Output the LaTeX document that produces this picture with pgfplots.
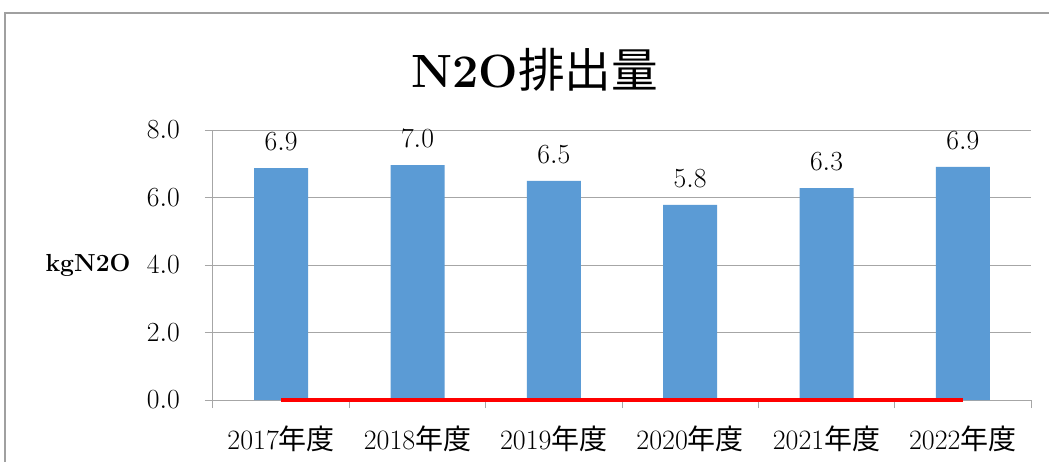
\documentclass[border=0pt]{standalone}
\usepackage{pgfplots}
\pgfplotsset{compat=1.18}
\usepackage{fontspec}
\newfontfamily\cjk{Noto Sans CJK JP}
\definecolor{barblue}{HTML}{5B9BD5}
\definecolor{gridgray}{HTML}{A6A6A6}
\definecolor{framegray}{HTML}{A0A0A0}
\begin{document}
\begin{tikzpicture}
\useasboundingbox (0pt,0pt) rectangle (786.75pt,346.5pt);
\fill[white] (0pt,0pt) rectangle (786.75pt,346.5pt);
\draw[framegray, line width=1.5pt] (3.75pt,0pt) -- (3.75pt,336.75pt) -- (786.75pt,336.75pt);
\node[anchor=center] at (401pt,294pt) {\fontsize{35}{40}\selectfont\bfseries N2O{\mdseries\cjk 排出量}};
\begin{axis}[
  at={(159.75pt,46.5pt)}, anchor=south west,
  scale only axis, width=613.5pt, height=202.5pt,
  xmin=-0.5, xmax=5.5, ymin=0, ymax=8,
  ytick={0,2,4,6,8},
  xtick={0,1,2,3,4,5},
  xticklabels={2017{\cjk 年度},2018{\cjk 年度},2019{\cjk 年度},2020{\cjk 年度},2021{\cjk 年度},2022{\cjk 年度}},
  minor xtick={-0.5,0.5,1.5,2.5,3.5,4.5,5.5},
  major x tick style={draw=none},
  tick align=outside,
  major tick length=6pt, minor tick length=6pt,
  tick style={gridgray, line width=0.75pt},
  axis x line*=bottom, axis y line*=left,
  axis line style={gridgray, line width=0.75pt, -},
  ymajorgrids, grid style={gridgray, line width=0.75pt},
  yticklabel style={/pgf/number format/.cd, fixed, fixed zerofill, precision=1, /tikz/.cd, anchor=east, inner sep=0pt, xshift=-18.75pt, font=\fontsize{21}{24}\selectfont},
  xticklabel style={anchor=north, inner sep=0pt, yshift=-13pt, font=\fontsize{21}{24}\selectfont},
  ylabel={\bfseries kgN2O},
  every axis y label/.style={at={(axis description cs:0,0.5)}, anchor=center, xshift=-93.75pt, font=\fontsize{18.5}{22}\selectfont},
  clip=false,
]
\addplot[ybar, bar width=40.5pt, fill=barblue, draw=none,
  nodes near coords,
  nodes near coords style={/pgf/number format/.cd, fixed, fixed zerofill, precision=1, /tikz/.cd, anchor=south, inner sep=0pt, yshift=12.75pt, font=\fontsize{21}{24}\selectfont, black}]
  coordinates {(0,6.87) (1,6.96) (2,6.49) (3,5.78) (4,6.28) (5,6.91)};
\addplot[red, line width=3pt, sharp plot, mark=none]
  coordinates {(0,0) (1,0) (2,0) (3,0) (4,0) (5,0)};
\end{axis}
\end{tikzpicture}
\end{document}
